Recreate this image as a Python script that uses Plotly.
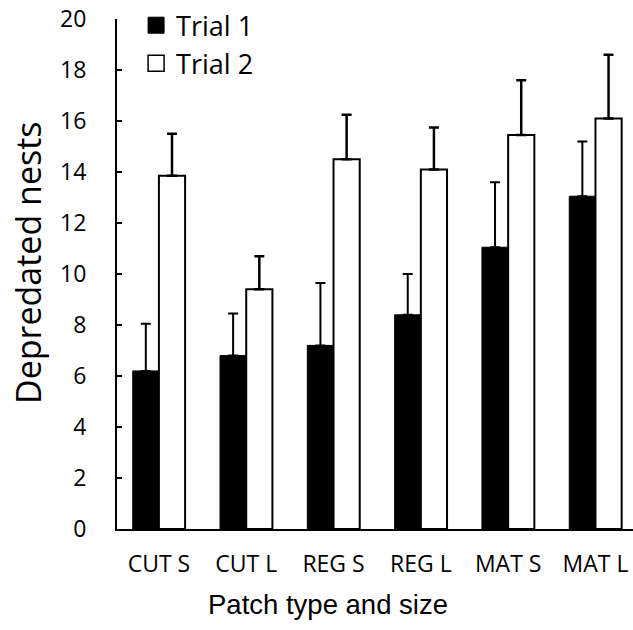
import plotly.graph_objects as go

# Patch categories (type and size)
categories = ["CUT S", "CUT L", "REG S", "REG L", "MAT S", "MAT L"]

# Mean number of depredated nests per trial
trial1 = [6.2, 6.8, 7.2, 8.4, 11.05, 13.05]
trial2 = [13.85, 9.4, 14.5, 14.1, 15.45, 16.1]

# Upper error (SE) for each bar
trial1_err = [1.85, 1.65, 2.45, 1.6, 2.55, 2.15]
trial2_err = [1.65, 1.3, 1.75, 1.65, 2.15, 2.5]

y_ticks = [0, 2, 4, 6, 8, 10, 12, 14, 16, 18, 20]

humanist = "Open Sans, Noto Sans, sans-serif"
grotesk = "Liberation Sans, Arial, sans-serif"

fig = go.Figure()

fig.add_trace(go.Bar(
    x=categories, y=trial1, name="Trial 1", showlegend=False,
    marker=dict(color="black", line=dict(color="black", width=1)),
    error_y=dict(type="data", array=trial1_err, arrayminus=[0] * 6,
                 symmetric=False, color="black", thickness=2, width=5),
))
fig.add_trace(go.Bar(
    x=categories, y=trial2, name="Trial 2", showlegend=False,
    marker=dict(color="white", line=dict(color="black", width=2)),
    error_y=dict(type="data", array=trial2_err, arrayminus=[0] * 6,
                 symmetric=False, color="black", thickness=2.5, width=5),
))

# Legend entries with square keys
fig.add_trace(go.Scatter(
    x=[None], y=[None], mode="markers", name="Trial 1",
    marker=dict(symbol="square", size=16, color="black",
                line=dict(color="black", width=1)),
))
fig.add_trace(go.Scatter(
    x=[None], y=[None], mode="markers", name="Trial 2",
    marker=dict(symbol="square", size=16, color="white",
                line=dict(color="black", width=1.5)),
))

fig.update_layout(
    width=633, height=630,
    margin=dict(l=117, r=0, t=19, b=101),
    paper_bgcolor="white", plot_bgcolor="white",
    barmode="group", bargap=0.4, bargroupgap=0,
    font=dict(family=humanist, color="black"),
    legend=dict(
        x=0.037, y=1.035, xanchor="left", yanchor="top",
        bgcolor="rgba(0,0,0,0)", font=dict(family=humanist, size=27),
        itemwidth=30, tracegroupgap=0,
    ),
    xaxis=dict(
        range=[-0.48, 5.43], showline=True, linecolor="black", linewidth=2,
        ticks="", showgrid=False, zeroline=False,
        tickfont=dict(family=humanist, size=23), ticklabelstandoff=13,
    ),
    yaxis=dict(
        range=[0, 20], tickvals=y_ticks, showline=True, linecolor="black",
        linewidth=2, ticks="inside", ticklen=5, tickwidth=2, tickcolor="black",
        showgrid=False, zeroline=False,
        tickfont=dict(family=humanist, size=23), ticklabelstandoff=24,
    ),
    annotations=[
        dict(text="Depredated nests", xref="paper", yref="paper",
             x=-0.1725, y=0.5235, textangle=-90, showarrow=False,
             xanchor="center", yanchor="middle",
             font=dict(family=humanist, size=34)),
        dict(text="Patch type and size", xref="paper", yref="paper",
             x=0.409, y=-0.148, showarrow=False,
             xanchor="center", yanchor="middle",
             font=dict(family=grotesk, size=27.5)),
    ],
)

fig.write_html("out.html")
